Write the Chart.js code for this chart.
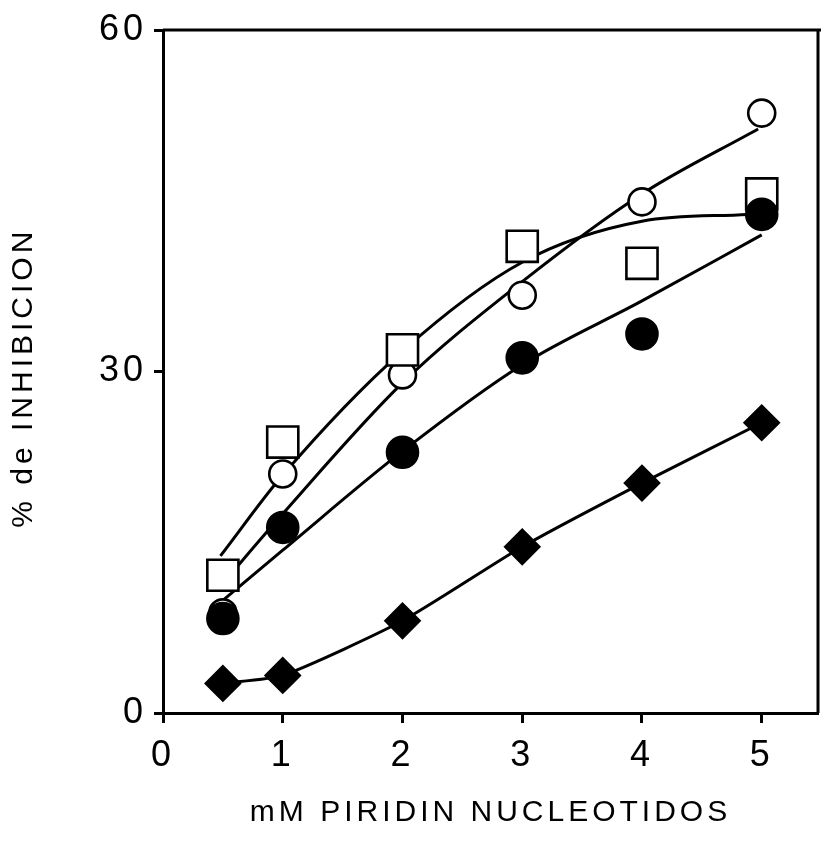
<!DOCTYPE html>
<html lang="es">
<head>
 <meta charset="UTF-8">
 <title>% de inhibicion vs mM piridin nucleotidos</title>
 <script src="https://cdn.jsdelivr.net/npm/chart.js"></script>
 <style>
 body {
 margin: 0;
 background: #fff;
 }
 canvas {
 display: block;
 }
 </style>
</head>
<body>
 <canvas id="inhibChart" width="821" height="841"></canvas>
 <script>
 // measured points
 let doses = [0.5, 1, 2, 3, 4, 5];
 let openCircle = [8.8, 21.0, 29.7, 36.7, 44.9, 52.7];
 let openSquare = [12.1, 23.8, 31.9, 41.0, 39.5, 45.6];
 let filledCircle = [8.3, 16.3, 22.9, 31.2, 33.3, 43.8];
 let filledDiamond = [2.6, 3.3, 8.1, 14.6, 20.2, 25.5];

 // hand drawn fitted curves
 let squareFitX = [0.48, 1, 2, 3, 4, 4.88];
 let squareFitY = [13.8, 20.9, 31.8, 39.6, 43.2, 43.8];
 let circleFitX = [0.5, 1, 2, 3, 4, 4.97];
 let circleFitY = [11.4, 17.5, 29.0, 37.9, 45.6, 51.3];
 let filledFitX = [0.5, 1, 2, 3, 4, 5];
 let filledFitY = [9.9, 14.3, 23.0, 30.6, 36.2, 42.0];

 let xTicks = [0, 1, 2, 3, 4, 5];
 let yTicks = [0, 30, 60];

 function pts(xs, ys) {
   return xs.map((x, i) => ({ x: x, y: ys[i] }));
 }

 function marker(data, style, radius, fill) {
   return {
     data: pts(doses, data),
     showLine: false,
     pointStyle: style,
     pointRadius: radius,
     pointBackgroundColor: fill,
     pointBorderColor: '#000',
     pointBorderWidth: 2.6
   };
 }

 function fitLine(xs, ys) {
   return {
     data: pts(xs, ys),
     showLine: true,
     pointRadius: 0,
     borderColor: '#000',
     borderWidth: 3,
     cubicInterpolationMode: 'monotone'
   };
 }

 // top and right edge of the box + wide lettering like the original
 let framePlugin = {
   id: 'frame',
   beforeDraw(chart) {
     chart.ctx.letterSpacing = '4px';
   },
   afterDatasetsDraw(chart) {
     let a = chart.chartArea;
     let ctx = chart.ctx;
     ctx.save();
     ctx.strokeStyle = '#000';
     ctx.lineWidth = 3;
     ctx.beginPath();
     ctx.moveTo(a.left, a.top);
     ctx.lineTo(chart.width, a.top);
     ctx.moveTo(a.right, a.top);
     ctx.lineTo(a.right, a.bottom);
     ctx.stroke();
     ctx.restore();
   }
 };

 let fontFam = "'Liberation Sans', Arial, sans-serif";

 new Chart(document.getElementById('inhibChart'), {
   type: 'scatter',
   data: {
     datasets: [
       marker(filledCircle, 'circle', 15.5, '#000'),
       marker(openSquare, 'rect', 22, '#fff'),
       marker(openCircle, 'circle', 13.5, '#fff'),
       marker(filledDiamond, 'rectRot', 17, '#000'),
       Object.assign(fitLine(doses, filledDiamond), { tension: 0.2, cubicInterpolationMode: 'default' }),
       fitLine(squareFitX, squareFitY),
       fitLine(circleFitX, circleFitY),
       fitLine(filledFitX, filledFitY)
     ]
   },
   options: {
     responsive: false,
     animation: false,
     layout: { autoPadding: false, padding: { top: 30, right: 3, left: 0, bottom: 0 } },
     plugins: { legend: { display: false }, tooltip: { enabled: false } },
     scales: {
       x: {
         type: 'linear',
         min: 0,
         max: 5.47,
         afterFit: s => { s.height = 128; s.paddingLeft = 0; s.paddingRight = 0; },
         afterBuildTicks: s => { s.ticks = xTicks.map(v => ({ value: v })); },
         border: { display: true, color: '#000', width: 3 },
         grid: { drawOnChartArea: false, drawTicks: true, tickLength: 10, tickWidth: 3, tickColor: '#000' },
         ticks: { color: '#000', padding: 11, maxRotation: 0, font: { family: fontFam, size: 36 } },
         title: {
           display: true,
           text: 'mM PIRIDIN NUCLEOTIDOS',
           color: '#000',
           padding: { top: 0, bottom: 10 },
           font: { family: fontFam, size: 30 }
         }
       },
       y: {
         min: 0,
         max: 60,
         afterFit: s => { s.width = 163; s.paddingTop = 0; s.paddingBottom = 0; },
         afterBuildTicks: s => { s.ticks = yTicks.map(v => ({ value: v })); },
         border: { display: true, color: '#000', width: 3 },
         grid: { drawOnChartArea: false, drawTicks: true, tickLength: 9, tickWidth: 3, tickColor: '#000' },
         ticks: { color: '#000', padding: 7, font: { family: fontFam, size: 36 } },
         title: {
           display: true,
           text: '% de INHIBICION ',
           color: '#000',
           padding: { top: 6, bottom: 0 },
           font: { family: fontFam, size: 30 }
         }
       }
     }
   },
   plugins: [framePlugin]
 });
 </script>
</body>
</html>
